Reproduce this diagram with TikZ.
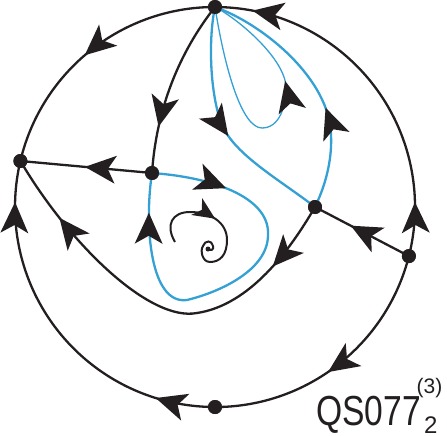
\documentclass[tikz,border=0pt]{standalone}
\usepackage{graphicx}
\usepackage{fontspec}
\newfontfamily\lblfont{Liberation Sans}
\usetikzlibrary{decorations.markings}
\definecolor{ink}{RGB}{35,31,32}
\definecolor{sky}{RGB}{52,160,212}
\tikzset{
  arr/.style={postaction={decorate,decoration={markings,mark=at position #1 with {\fill[ink] (0pt,0pt) -- (-31pt,14pt) .. controls (-27pt,6pt) .. (-23pt,0pt) .. controls (-27pt,-6pt) .. (-31pt,-14pt) -- cycle;}}}},
  sarr/.style={postaction={decorate,decoration={markings,mark=at position #1 with {\fill[ink] (0pt,0pt) -- (-22pt,10pt) .. controls (-19pt,4pt) .. (-16pt,0pt) .. controls (-19pt,-4pt) .. (-22pt,-10pt) -- cycle;}}}},
  dot/.style={circle,fill=ink,draw=none,inner sep=0pt,minimum size=14pt},
  fdot/.style={circle,fill=ink,draw=none,inner sep=0pt,minimum size=5pt},
  bline/.style={draw=ink,line width=2.3pt},
  cline/.style={draw=sky,line width=2.3pt},
  tline/.style={draw=sky,line width=1.3pt},
}
\begin{document}
\begin{tikzpicture}[x=1pt,y=-1pt]
\useasboundingbox (0,0) rectangle (447,436);
% singular points
\node[dot] (N) at (215,7) {};
\node[dot] (S) at (215,407) {};
\node[dot] (W) at (20.4,161) {};
\node[dot] (E) at (408.9,256.1) {};
\node[dot] (A) at (152,173) {};
\node[dot] (B) at (315,207) {};
\node[fdot] (F) at (208,249) {};
\coordinate (sp) at (175,242);
% blue separatrices
\draw[cline,arr=0.19,arr=0.90] (A.center) .. controls (220,178) and (270,200) .. (268,235)
   .. controls (268,270) and (220,292) .. (187,300)
   .. controls (150,305) and (144,225) .. (A.center);
\draw[cline,arr=0.54] (N.center) .. controls (208,40) and (210,95) .. (222,125)
   .. controls (235,155) and (280,180) .. (B.center);
\draw[cline,arr=0.40] (B.center) .. controls (328,180) and (332,155) .. (331,135)
   .. controls (330,80) and (265,25) .. (N.center);
\draw[tline,arr=0.65] (N.center) .. controls (225,70) and (242,128) .. (262,128)
   .. controls (280,128) and (286,105) .. (286,88)
   .. controls (286,60) and (240,20) .. (N.center);
% circle at infinity
\draw[bline,arr=0.15,arr=0.896] (E.center) arc[start angle=14.2,end angle=-90,radius=200];
\draw[bline,arr=0.53] (N.center) arc[start angle=-90,end angle=-166.7,radius=200];
\draw[bline,arr=0.167,arr=0.885] (S.center) arc[start angle=90,end angle=193.3,radius=200];
\draw[bline,arr=0.546] (E.center) arc[start angle=14.2,end angle=90,radius=200];
% black separatrices
\draw[bline,arr=0.74] (N.center) .. controls (185,45) and (157,100) .. (A.center);
\draw[bline,arr=0.51] (A.center) -- (W.center);
\draw[bline,arr=0.62] (E.center) -- (B.center);
\draw[bline,arr=0.18,arr=0.83] (B.center) .. controls (290,250) and (250,305) .. (197,313)
   .. controls (150,322) and (70,245) .. (W.center);
% spiral
\draw[draw=ink,line width=2pt,sarr=0.41] (sp) .. controls (165,225) and (172,212) .. (190,212)
   .. controls (210,212) and (227,222) .. (227,240)
   .. controls (227,255) and (220,262) .. (210,262)
   .. controls (202,262) and (200,250) .. (203,246)
   .. controls (205,240) and (212,240) .. (213,246)
   .. controls (214,250) and (211,251) .. (F.center);
% redraw dots on top
\foreach \p in {N,S,W,E,A,B} \fill[ink] (\p) circle (7pt);
% label
\node[anchor=base west,inner sep=0pt,text=ink] (lbl) at (316,425) {\scalebox{0.8}[1]{\lblfont\fontsize{42}{42}\selectfont QS077}};
\node[anchor=base west,inner sep=0pt,text=ink] (sup) at (416.5,393) {\lblfont\fontsize{21}{21}\selectfont (3)};
\node[anchor=base west,inner sep=0pt,text=ink] (sub) at (424,433.5) {\lblfont\fontsize{24}{24}\selectfont 2};
\end{tikzpicture}
\end{document}
